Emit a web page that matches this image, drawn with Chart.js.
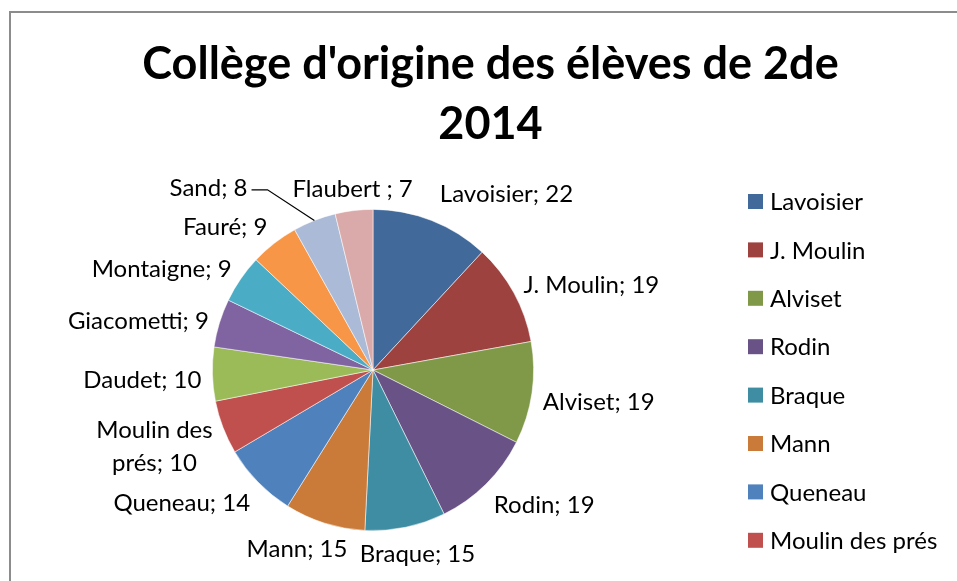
<!DOCTYPE html>
<html><head><meta charset="utf-8">
<script src="https://cdn.jsdelivr.net/npm/chart.js@4/dist/chart.umd.min.js"></script>
<style>
html,body{margin:0;padding:0;background:#fff;overflow:hidden;}
#wrap{position:relative;width:957px;height:581px;overflow:hidden;background:#fff;}
#frame{position:absolute;left:9px;top:11px;width:1000px;height:700px;border-left:2px solid #8c8c8c;border-top:2px solid #8c8c8c;}
canvas{position:absolute;left:0;top:0;}
</style></head><body>
<div id="wrap"><div id="frame"></div><canvas id="c" width="957" height="581"></canvas></div>
<script>
// ---- data ----
const categories = ['Lavoisier','J. Moulin','Alviset','Rodin','Braque','Mann','Queneau','Moulin des prés','Daudet','Giacometti','Montaigne','Fauré','Sand','Flaubert '];
const counts = [22,19,19,19,15,15,14,10,10,9,9,9,8,7];
const sliceColors = ['#416A9B','#9D423F','#7F9949','#695285','#3E8DA2','#CA7B39','#4F81BD','#C0504D','#9BBB59','#8064A2','#4BACC6','#F79646','#AABAD7','#D9AAA9'];
const titleLines = ["Collège d'origine des élèves de 2de", "2014"];

// ---- layout / style ----
const FONT = 'Lato, "Open Sans", sans-serif';
const PIE = {cx: 373, cy: 370, r: 161};
const LABEL = {size: 24, lineH: 33, gap: 11, wrap: 150, dead: 0.15, spread: 3.2, yBias: 6};
const LABEL_SHIFT = {'Lavoisier': [25, -7], 'Sand': [-75, -13]};
const LEGEND = {x: 748, top: 201.5, step: 48.4, box: 15, textGap: 7, size: 24, textDy: 1};

const pieArea = {
  id: 'pieArea',
  afterLayout(chart) {
    const a = chart.chartArea;
    a.left = PIE.cx - PIE.r; a.right = PIE.cx + PIE.r;
    a.top = PIE.cy - PIE.r; a.bottom = PIE.cy + PIE.r;
    a.width = a.height = 2 * PIE.r;
  }
};

function wrapText(ctx, text, maxW) {
  if (ctx.measureText(text).width <= maxW) return [text];
  const words = text.split(' ');
  const lines = []; let cur = '';
  for (const w of words) {
    const t = cur ? cur + ' ' + w : w;
    if (cur && ctx.measureText(t).width > maxW) { lines.push(cur); cur = w; }
    else cur = t;
  }
  if (cur) lines.push(cur);
  return lines;
}

const sliceLabels = {
  id: 'sliceLabels',
  afterDatasetsDraw(chart) {
    const ctx = chart.ctx;
    const meta = chart.getDatasetMeta(0);
    const ds = chart.data.datasets[0];
    ctx.save();
    ctx.font = LABEL.size + 'px ' + FONT;
    ctx.fillStyle = '#000';
    ctx.textAlign = 'center';
    ctx.textBaseline = 'middle';
    meta.data.forEach((arc, i) => {
      const p = arc.getProps(['x','y','startAngle','endAngle','outerRadius'], true);
      const mid = (p.startAngle + p.endAngle) / 2;
      const c = Math.cos(mid), s = Math.sin(mid);
      const text = chart.data.labels[i] + '; ' + ds.data[i];
      const lines = wrapText(ctx, text, LABEL.wrap);
      const w = Math.max(...lines.map(l => ctx.measureText(l).width));
      const h = lines.length * LABEL.lineH;
      const ax = p.x + c * (p.outerRadius + LABEL.gap);
      const ay = p.y + s * (p.outerRadius + LABEL.gap);
      const fx = Math.sign(c) * Math.max(0, Math.min(1, (Math.abs(c) - LABEL.dead) * LABEL.spread));
      let cx = ax + fx * w / 2;
      let cy = ay + s * h / 2 + LABEL.yBias * (1 - Math.max(0, s));
      const sh = LABEL_SHIFT[chart.data.labels[i]];
      if (sh) {
        cx += sh[0]; cy += sh[1];
        if (Math.hypot(sh[0], sh[1]) > 40) {
          const ex = p.x + c * p.outerRadius, ey = p.y + s * p.outerRadius;
          const lx = cx + w / 2 + 4;
          ctx.beginPath();
          ctx.moveTo(lx, cy + 2); ctx.lineTo(lx + 16, cy + 2); ctx.lineTo(ex, ey);
          ctx.strokeStyle = '#000'; ctx.lineWidth = 1.2; ctx.stroke();
        }
      }
      lines.forEach((ln, k) => ctx.fillText(ln, cx, cy - h / 2 + LABEL.lineH * (k + 0.5)));
    });
    ctx.restore();
  }
};

const sideLegend = {
  id: 'sideLegend',
  afterDraw(chart) {
    const ctx = chart.ctx;
    const ds = chart.data.datasets[0];
    ctx.save();
    ctx.font = LEGEND.size + 'px ' + FONT;
    ctx.textAlign = 'left';
    ctx.textBaseline = 'middle';
    chart.data.labels.forEach((lab, i) => {
      const y = LEGEND.top + i * LEGEND.step;
      if (y + LEGEND.size / 2 > chart.height) return; // entries that do not fit are omitted
      ctx.fillStyle = ds.backgroundColor[i];
      ctx.fillRect(LEGEND.x, y - LEGEND.box / 2, LEGEND.box, LEGEND.box);
      ctx.fillStyle = '#000';
      ctx.fillText(lab.trim(), LEGEND.x + LEGEND.box + LEGEND.textGap, y + LEGEND.textDy);
    });
    ctx.restore();
  }
};

new Chart(document.getElementById('c'), {
  type: 'pie',
  data: {
    labels: categories,
    datasets: [{data: counts, backgroundColor: sliceColors, borderColor: 'rgba(255,255,255,0.7)', borderWidth: 0.75}]
  },
  options: {
    responsive: false,
    animation: false,
    layout: {padding: {left: 24, right: 0, top: 35, bottom: 0}},
    plugins: {
      legend: {display: false},
      tooltip: {enabled: false},
      title: {
        display: true, text: titleLines, color: '#000',
        font: {family: FONT, size: 45, weight: 'bold', lineHeight: 1.33},
        padding: {top: 0, bottom: 0}
      }
    }
  },
  plugins: [pieArea, sliceLabels, sideLegend]
});
</script>
</body></html>
